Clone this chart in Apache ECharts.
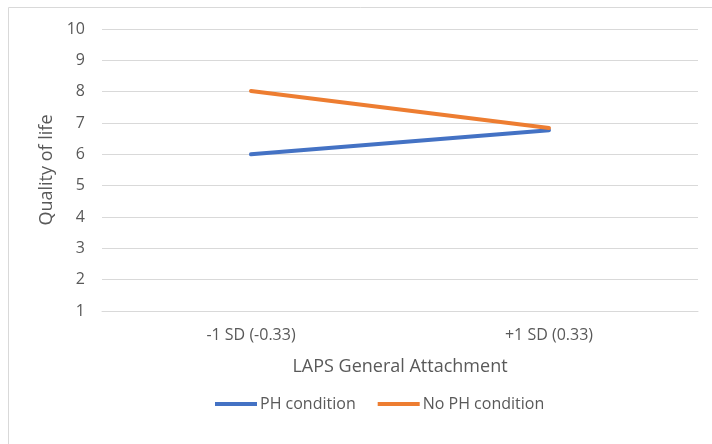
<!DOCTYPE html>
<html>
<head>
<meta charset="utf-8">
<style>
  html, body { margin: 0; padding: 0; background: #fff; }
  #chart { width: 712px; height: 444px; }
</style>
<script src="https://cdn.jsdelivr.net/npm/echarts@6/dist/echarts.min.js"></script>
</head>
<body>
<div id="chart"></div>
<script>
const categories = ['-1 SD (-0.33)', '+1 SD (0.33)']
const phCondition = [6.0, 6.77]
const noPhCondition = [8.02, 6.84]

const textColor = '#595959'
const font = '"Open Sans", "Noto Sans", sans-serif'

const chart = echarts.init(document.getElementById('chart'))

chart.setOption({
  animation: false,
  textStyle: { fontFamily: font },
  graphic: [{
    type: 'rect',
    shape: { x: 8.5, y: 7.5, width: 800, height: 600 },
    style: { fill: 'none', stroke: '#d9d9d9', lineWidth: 1 },
    silent: true
  }],
  grid: { left: 102, right: 14, top: 29, bottom: 133 },
  legend: {
    left: 210,
    top: 391,
    itemWidth: 42,
    itemHeight: 4,
    itemGap: 22,
    icon: 'rect',
    textStyle: { color: textColor, fontSize: 16, fontFamily: font, padding: [0, 0, 0, -2] },
    data: ['PH condition', 'No PH condition']
  },
  xAxis: {
    type: 'category',
    data: categories,
    name: 'LAPS General Attachment',
    nameLocation: 'middle',
    nameGap: 47,
    nameTextStyle: { color: textColor, fontSize: 18, fontFamily: font },
    axisLine: { lineStyle: { color: '#d9d9d9' } },
    axisTick: { show: false },
    axisLabel: { color: textColor, fontSize: 16, margin: 16, fontFamily: font }
  },
  yAxis: {
    type: 'value',
    min: 1,
    max: 10,
    interval: 1,
    name: 'Quality of life',
    nameLocation: 'middle',
    nameGap: 43,
    nameTextStyle: { color: textColor, fontSize: 18, fontFamily: font },
    axisLine: { show: false },
    axisTick: { show: false },
    axisLabel: { color: textColor, fontSize: 16, margin: 17, fontFamily: font },
    splitLine: { lineStyle: { color: '#d9d9d9' } }
  },
  series: [
    {
      name: 'PH condition',
      type: 'line',
      data: phCondition,
      showSymbol: false,
      symbol: 'none',
      lineStyle: { color: '#4472c4', width: 4, cap: 'round' },
      itemStyle: { color: '#4472c4' }
    },
    {
      name: 'No PH condition',
      type: 'line',
      data: noPhCondition,
      showSymbol: false,
      symbol: 'none',
      lineStyle: { color: '#ed7d31', width: 4, cap: 'round' },
      itemStyle: { color: '#ed7d31' }
    }
  ]
})
</script>
</body>
</html>
